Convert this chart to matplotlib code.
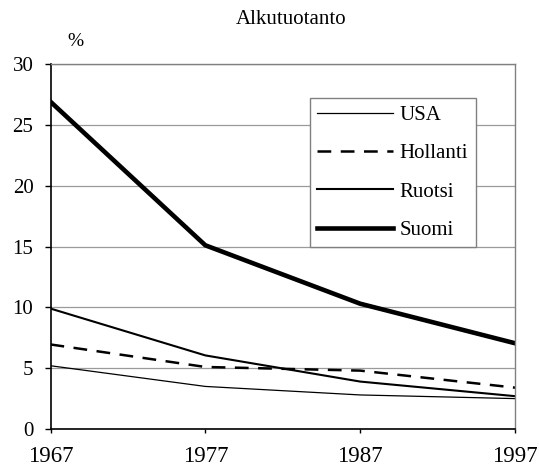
import matplotlib
matplotlib.use("Agg")
import matplotlib.pyplot as plt

years = [1967, 1977, 1987, 1997]
usa = [5.2, 3.5, 2.8, 2.5]
hollanti = [6.95, 5.1, 4.8, 3.4]
ruotsi = [9.9, 6.05, 3.9, 2.7]
suomi = [26.9, 15.1, 10.3, 7.05]
yticks = [0, 5, 10, 15, 20, 25, 30]

plt.rcParams['font.family'] = ['Liberation Serif', 'DejaVu Serif']

fig = plt.figure(figsize=(5.39, 4.70), dpi=100)
ax = fig.add_axes([0.0937, 0.0872, 0.8618, 0.7766])

ax.plot(years, usa, color='black', lw=0.9, label='USA')
ax.plot(years, hollanti, color='black', lw=1.8, dashes=(5.5, 3.8), label='Hollanti')
ax.plot(years, ruotsi, color='black', lw=1.5, label='Ruotsi')
ax.plot(years, suomi, color='black', lw=3.3, label='Suomi')

ax.set_xlim(years[0], years[-1])
ax.set_ylim(0, 30)
ax.set_xticks(years)
ax.set_yticks(yticks)
ax.yaxis.grid(True, color='#9a9a9a', lw=0.9)
ax.set_axisbelow(True)

for s in ['top', 'right']:
    ax.spines[s].set_color('#808080')
    ax.spines[s].set_linewidth(1.0)
for s in ['left', 'bottom']:
    ax.spines[s].set_color('black')
    ax.spines[s].set_linewidth(1.2)

ax.tick_params(axis='y', direction='out', length=4.3, width=1.0, pad=8, labelsize=15)
ax.tick_params(axis='x', direction='out', length=3.0, width=1.0, pad=9, labelsize=16.5)

leg = ax.legend(loc='upper left', bbox_to_anchor=(0.559, 0.907), fontsize=15,
                handlelength=3.65, handletextpad=0.3, labelspacing=0.9,
                borderpad=0.35, borderaxespad=0.0, fancybox=False,
                framealpha=1.0, edgecolor='#808080')
leg.get_frame().set_linewidth(1.0)

fig.text(291 / 539, 1 - 20 / 470, 'Alkutuotanto', ha='center', va='center', fontsize=15)
fig.text(75 / 539, 1 - 42 / 470, '%', ha='center', va='center', fontsize=14)

fig.savefig('out.png', dpi=100)
